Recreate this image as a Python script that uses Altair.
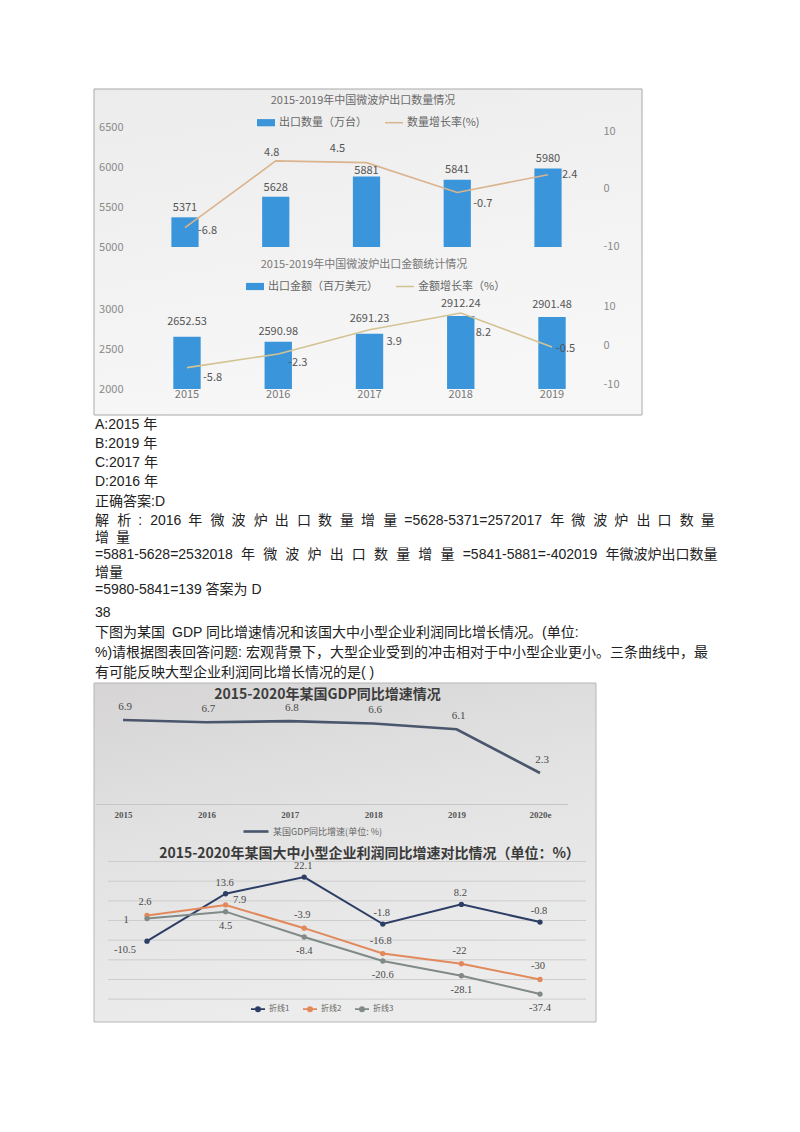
import pandas as pd
import altair as alt

# 2015-2019 中国微波炉出口
years = ["2015", "2016", "2017", "2018", "2019"]
qty = [5371, 5628, 5881, 5841, 5980]
qty_rate = [-6.8, 4.8, 4.5, -0.7, 2.4]
amount = [2652.53, 2590.98, 2691.23, 2912.24, 2901.48]
amount_rate = [-5.8, -2.3, 3.9, 8.2, -0.5]
qty_ticks = [5000, 5500, 6000, 6500]
amount_ticks = [2000, 2500, 3000]
rate_ticks = [-10, 0, 10]

# 2015-2020 某国 GDP 与企业利润
years6 = ["2015", "2016", "2017", "2018", "2019", "2020e"]
gdp = [6.9, 6.7, 6.8, 6.6, 6.1, 2.3]
line1 = [-10.5, 13.6, 22.1, -1.8, 8.2, -0.8]
line2 = [2.6, 7.9, -3.9, -16.8, -22, -30]
line3 = [1, 4.5, -8.4, -20.6, -28.1, -37.4]
series = ["折线1", "折线2", "折线3"]
grid_ticks = [30, 20, 10, 0, -10, -20, -30, -40]

G1 = "\u2002"
G2 = "\u2002\u200a"


def spread(parts):
    # 两端对齐的近似：交替使用两种空白
    out = parts[0]
    for i, s in enumerate(parts[1:]):
        out += (G2 if i % 2 == 0 else G1) + s
    return out


answer_lines = [
    "A:2015 年",
    "B:2019 年",
    "C:2017 年",
    "D:2016 年",
    "正确答案:D",
    spread(list("解析") + [":", "2016"] + list("年微波炉出口数量增量")
           + ["=5628-5371=2572017"] + list("年微波炉出口数量")),
]
wrap_lines = [
    G1.join("增量"),
    "=5881-5628=2532018" + G2 + G2.join("年微波炉出口数量增量") + G2
    + "=5841-5881=-402019" + G2 + "年微波炉出口数量",
    "增量",
    "=5980-5841=139 答案为 D",
]
question_lines = [
    "38",
    "下图为某国\u2002GDP 同比增速情况和该国大中小型企业利润同比增长情况。(单位:",
    "%)请根据图表回答问题: 宏观背景下，大型企业受到的冲击相对于中小型企业更小。三条曲线中，最",
    "有可能反映大型企业利润同比增长情况的是(  )",
]

W, H, M = 784, 1100, 8
BODY = "Liberation Sans, Noto Sans CJK SC, sans-serif"
SANS = "Noto Sans CJK SC, sans-serif"
SERIF = "Liberation Serif, Noto Serif CJK SC, serif"
BLUE = "#3a95da"
TAN = "#dab48e"
KHAKI = "#d3c393"
SLATE = "#4a566c"
NAVY = "#2d3e66"
ORANGE = "#e2895c"
GREY = "#808a88"
NEG = "datum.value < 0 ? '-' + abs(datum.value) : '' + datum.value"


def c(v):
    # page pixel -> canvas pixel
    return v - M


def fixed_text(text, x, y, size, color, font=SANS, weight="normal"):
    return alt.Chart(pd.DataFrame({"t": [text]})).mark_text(
        baseline="middle", font=font, fontSize=size, fontWeight=weight, color=color
    ).encode(x=alt.value(c(x)), y=alt.value(c(y)), text="t:N")


def frame(x0, y0, x1, y1, stops, stroke):
    grad = alt.LinearGradient(
        gradient="linear",
        stops=[alt.GradientStop(color=col, offset=o) for o, col in stops],
        x1=0, y1=0, x2=0.3, y2=1,
    )
    return alt.Chart(pd.DataFrame({"k": [0]})).mark_rect(
        fill=grad, stroke=stroke, strokeWidth=1
    ).encode(x=alt.value(c(x0)), x2=alt.value(c(x1)),
             y=alt.value(c(y0)), y2=alt.value(c(y1)))


def side_axis(orient, offset, values, expr=None):
    kw = dict(orient=orient, offset=offset, values=values, ticks=False, domain=False,
              grid=False, labelPadding=2, labelFont=SANS, labelFontSize=11,
              labelColor="#8a8a8a", title=None, zindex=1)
    if expr:
        kw["labelExpr"] = expr
    else:
        kw["format"] = "d"
    return alt.Axis(**kw)


def legend_at(x, y, symbol, size, font_size=11, stroke_w=1.5, **kw):
    return alt.Legend(orient="none", legendX=c(x), legendY=c(y), title=None,
                      symbolType=symbol, symbolSize=size, symbolStrokeWidth=stroke_w,
                      labelFont=SANS, labelFontSize=font_size, labelColor="#666",
                      labelOffset=3, padding=0, **kw)


def tags(df, xs, yf, ys, tf, keep, dx, dy, align="center", font=SANS, size=11, color="#555"):
    ch = alt.Chart(df)
    if keep:
        ch = ch.transform_filter(keep)
    return ch.mark_text(align=align, baseline="middle", dx=dx, dy=dy, font=font,
                        fontSize=size, color=color).encode(
        x=alt.X("year:N", scale=xs, axis=None),
        y=alt.Y(f"{yf}:Q", scale=ys, axis=None),
        text=f"{tf}:N",
    )


def yr(*ys):
    return " || ".join(f"datum.year == '{y}'" for y in ys)


# ---------- 出口数量 ----------
q = pd.DataFrame({"year": years, "v": qty, "r": qty_rate})
q["vt"] = [str(v) for v in qty]
q["rt"] = [f"{v:g}" for v in qty_rate]

qx = alt.Scale(type="band", domain=years, range=[c(185 - 45.375), c(548 + 45.375)],
               paddingInner=0.7, paddingOuter=0.35)
qyl = alt.Scale(domain=[5000, 6500], range=[c(247), c(127)], nice=False, zero=False)
qyr = alt.Scale(domain=[-10, 10], range=[c(246), c(131)], nice=False, zero=False)

q_bars = alt.Chart(q).transform_calculate(s="'出口数量（万台）'").mark_bar().encode(
    x=alt.X("year:N", scale=qx, axis=None),
    y=alt.Y("v:Q", scale=qyl, axis=side_axis("left", -117, qty_ticks)),
    y2=alt.datum(5000),
    color=alt.Color("s:N", scale=alt.Scale(domain=["出口数量（万台）"], range=[BLUE]),
                    legend=legend_at(256, 112.7, "M-1,-0.4H1V0.4H-1Z", 324)),
)
q_line = alt.Chart(q).transform_calculate(s="'数量增长率(%)'").mark_line(strokeWidth=1.6).encode(
    x=alt.X("year:N", scale=qx, axis=None),
    y=alt.Y("r:Q", scale=qyr, axis=side_axis("right", 593 - W, rate_ticks, NEG)),
    color=alt.Color("s:N", scale=alt.Scale(domain=["数量增长率(%)"], range=[TAN]),
                    legend=legend_at(384, 112.7, "stroke", 324)),
)
q_layers = [
    q_bars, q_line,
    tags(q, qx, "v", qyl, "vt", yr("2015", "2016"), 0, -9),
    tags(q, qx, "v", qyl, "vt", yr("2017"), 0, -6),
    tags(q, qx, "v", qyl, "vt", yr("2018", "2019"), 0, -10),
    tags(q, qx, "r", qyr, "rt", yr("2015"), 13, 3, "left"),
    tags(q, qx, "r", qyr, "rt", yr("2016"), -4, -8),
    tags(q, qx, "r", qyr, "rt", yr("2017"), -29, -14),
    tags(q, qx, "r", qyr, "rt", yr("2018"), 16, 11, "left"),
    tags(q, qx, "r", qyr, "rt", yr("2019"), 14, 0, "left"),
    fixed_text("2015-2019年中国微波炉出口数量情况", 363, 101, 11, "#6a6a6a"),
]

# ---------- 出口金额 ----------
a = pd.DataFrame({"year": years, "v": amount, "r": amount_rate})
a["vt"] = [f"{v:.2f}" for v in amount]
a["rt"] = [f"{v:g}" for v in amount_rate]

ax = alt.Scale(type="band", domain=years, range=[c(187 - 45.625), c(552 + 45.625)],
               paddingInner=0.7, paddingOuter=0.35)
ayl = alt.Scale(domain=[2000, 3000], range=[c(389), c(309)], nice=False, zero=False)
ayr = alt.Scale(domain=[-10, 10], range=[c(384), c(306)], nice=False, zero=False)

a_bars = alt.Chart(a).transform_calculate(s="'出口金额（百万美元）'").mark_bar().encode(
    x=alt.X("year:N", scale=ax,
            axis=alt.Axis(orient="bottom", offset=c(386) - H, labelPadding=2, ticks=False,
                          domain=False, grid=False, labelAngle=0, labelFont=SANS,
                          labelFontSize=11, labelColor="#777", title=None, zindex=1)),
    y=alt.Y("v:Q", scale=ayl, axis=side_axis("left", -117, amount_ticks)),
    y2=alt.datum(2000),
    color=alt.Color("s:N", scale=alt.Scale(domain=["出口金额（百万美元）"], range=[BLUE]),
                    legend=legend_at(245, 276.5, "M-1,-0.4H1V0.4H-1Z", 324)),
)
a_line = alt.Chart(a).transform_calculate(s="'金额增长率（%）'").mark_line(strokeWidth=1.6).encode(
    x=alt.X("year:N", scale=ax, axis=None),
    y=alt.Y("r:Q", scale=ayr, axis=side_axis("right", 593 - W, rate_ticks, NEG)),
    color=alt.Color("s:N", scale=alt.Scale(domain=["金额增长率（%）"], range=[KHAKI]),
                    legend=legend_at(395, 276.5, "stroke", 324)),
)
a_layers = [
    a_bars, a_line,
    tags(a, ax, "v", ayl, "vt", yr("2015", "2017"), 0, -15),
    tags(a, ax, "v", ayl, "vt", yr("2016"), 0, -10),
    tags(a, ax, "v", ayl, "vt", yr("2018", "2019"), 0, -12),
    tags(a, ax, "r", ayr, "rt", yr("2015"), 16, 10, "left"),
    tags(a, ax, "r", ayr, "rt", yr("2016"), 10, 9, "left"),
    tags(a, ax, "r", ayr, "rt", yr("2017"), 17, 12, "left"),
    tags(a, ax, "r", ayr, "rt", yr("2018"), 15, 20, "left"),
    tags(a, ax, "r", ayr, "rt", yr("2019"), 4, 2, "left"),
    fixed_text("2015-2019年中国微波炉出口金额统计情况", 364, 265, 11, "#777"),
]

# ---------- GDP ----------
g = pd.DataFrame({"year": years6, "v": gdp})
g["vt"] = [f"{v:g}" for v in gdp]
gstep = (540 - 123) / 5
gx = alt.Scale(type="point", domain=years6,
               range=[c(123 - 0.33 * gstep), c(540 + 0.33 * gstep)], padding=0.33)
gy = alt.Scale(domain=[0, 8], range=[c(799.5), c(799.5 - 8 * 11.52)], nice=False, zero=False)

g_line = alt.Chart(g).transform_calculate(s="'某国GDP同比增速(单位: %)'").mark_line(strokeWidth=2.6).encode(
    x=alt.X("year:N", scale=gx,
            axis=alt.Axis(orient="bottom", offset=c(804) - H, labelPadding=6, ticks=False,
                          domain=True, domainColor="#c6c6c6", grid=False, labelAngle=0,
                          labelFont=SERIF, labelFontSize=9, labelFontWeight="bold",
                          labelColor="#555", title=None, zindex=1)),
    y=alt.Y("v:Q", scale=gy, axis=None),
    color=alt.Color("s:N", scale=alt.Scale(domain=["某国GDP同比增速(单位: %)"], range=[SLATE]),
                    legend=legend_at(242, 817.5, "stroke", 625, font_size=9, stroke_w=2.6)),
)
g_layers = [
    g_line,
    tags(g, gx, "v", gy, "vt", None, 2, -13, font=SERIF, size=11, color="#4a4a4a"),
    fixed_text("2015-2020年某国GDP同比增速情况", 327.5, 695, 14, "#3d3d3d", weight="bold"),
]

# ---------- 企业利润 ----------
p = pd.DataFrame({
    "year": years6 * 3,
    "series": [s for s in series for _ in years6],
    "v": line1 + line2 + line3,
})
p["vt"] = [f"{v:g}" for v in p["v"]]
px = alt.Scale(type="point", domain=years6, range=[c(147), c(540)], padding=0)
py = alt.Scale(domain=[-40, 30], range=[c(920.5 + 40 * 1.966), c(920.5 - 30 * 1.966)],
               nice=False, zero=False)

p_grid = alt.Chart(pd.DataFrame({"v": grid_ticks})).mark_rule(color="#cdcdcd", strokeWidth=1).encode(
    y=alt.Y("v:Q", scale=py, axis=None), x=alt.value(c(108)), x2=alt.value(c(586)))
p_lines = alt.Chart(p).mark_line(strokeWidth=2, point=alt.OverlayMarkDef(filled=True, size=28)).encode(
    x=alt.X("year:N", scale=px, axis=None),
    y=alt.Y("v:Q", scale=py, axis=None),
    color=alt.Color("series:N", scale=alt.Scale(domain=series, range=[NAVY, ORANGE, GREY]),
                    legend=legend_at(250, 1001, "M-1,0H1M-0.3,0A0.3,0.3,0,1,0,0.3,0A0.3,0.3,0,1,0,-0.3,0",
                                     196, font_size=8, stroke_w=1.8, direction="horizontal",
                                     columnPadding=9)),
)


def ser(s, y=None):
    e = f"datum.series == '{s}'"
    return e if y is None else f"{e} && {yr(y)}"


lab = dict(font=SERIF, size=10.5, color="#4a4a4a")
p_layers = [
    p_grid, p_lines,
    tags(p, px, "v", py, "vt", ser("折线1", "2015"), -22, 9, **lab),
    tags(p, px, "v", py, "vt", ser("折线1") + " && datum.year != '2015'", -1, -11, **lab),
    tags(p, px, "v", py, "vt", ser("折线2", "2016"), 14, -5, **lab),
    tags(p, px, "v", py, "vt", ser("折线2") + " && datum.year != '2016'", -2, -13, **lab),
    tags(p, px, "v", py, "vt", ser("折线3", "2015"), -21, 1, **lab),
    tags(p, px, "v", py, "vt", ser("折线3") + " && datum.year != '2015'", 0, 14, **lab),
    fixed_text("2015-2020年某国大中小型企业利润同比增速对比情况（单位：%）", 369.5, 854, 14,
               "#3a3a3a", weight="bold"),
]


# ---------- 文字 ----------
def text_block(lines, y0, y1, size=14):
    df = pd.DataFrame({"row": list(range(len(lines))), "t": lines})
    return alt.Chart(df).mark_text(align="left", baseline="middle", font=BODY,
                                   fontSize=size, color="#222").encode(
        x=alt.value(c(95)),
        y=alt.Y("row:Q", scale=alt.Scale(domain=[0, len(lines) - 1], range=[c(y0), c(y1)],
                                         nice=False, zero=False), axis=None),
        text="t:N",
    )


layers = (
    [frame(94, 89, 642, 415, [(0, "#ececec"), (1, "#f7f7f7")], "#a9a9a9"),
     frame(94, 683, 596, 1022, [(0, "#d6d4d4"), (0.45, "#e2e2e2"), (1, "#ececec")], "#b6b6b6")]
    + q_layers + a_layers + g_layers + p_layers
    + [text_block(answer_lines, 424.5, 521),
       text_block(wrap_lines, 537.5, 590),
       text_block(question_lines, 613, 673)]
)

chart = alt.layer(*layers).resolve_scale(
    x="independent", y="independent", color="independent"
).properties(
    width=W, height=H, padding=0, autosize=alt.AutoSizeParams(type="none")
).configure_view(stroke=None)

chart.save("out.html", embed_options={"renderer": "svg", "actions": False})
